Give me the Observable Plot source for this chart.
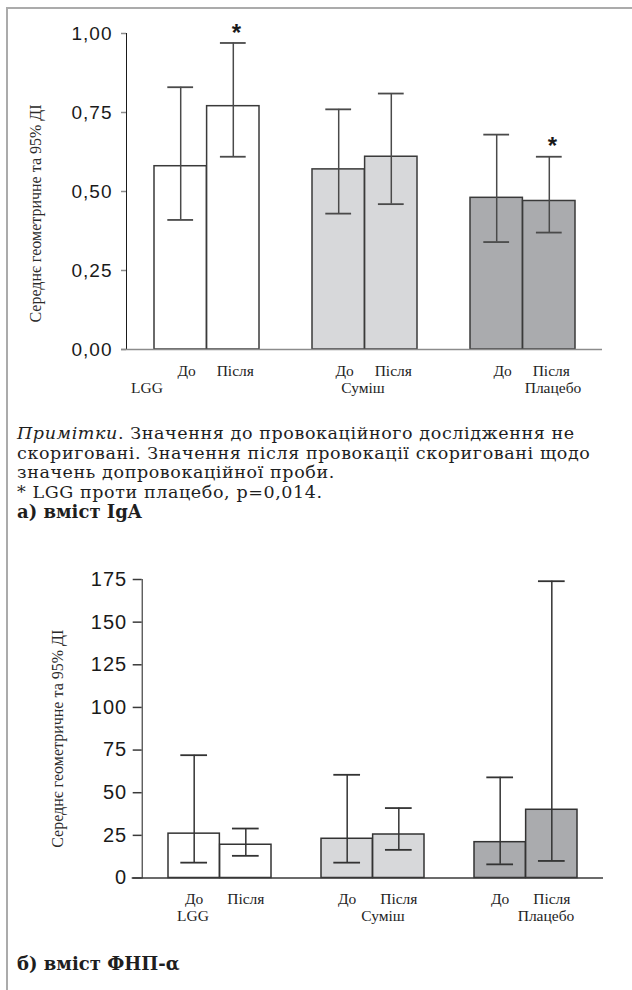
<!DOCTYPE html>
<html>
<head>
<meta charset="utf-8">
<script src="https://cdn.jsdelivr.net/npm/d3@7"></script>
<script src="https://cdn.jsdelivr.net/npm/@observablehq/plot@0.6"></script>
<style>
  body { margin: 0; background: #fff; }
  #page { position: relative; width: 632px; height: 990px; overflow: hidden; background: #fff; }
  #chartA { position: absolute; left: 0; top: 0; }
  #chartB { position: absolute; left: 0; top: 540px; }
  .frameTop { position: absolute; left: 6px; top: 7px; width: 626px; height: 2px; background: #ababab; }
  .frameLeft { position: absolute; left: 6px; top: 7px; width: 2px; height: 983px; background: #ababab; }
  .txt { position: absolute; left: 17px; font-family: "DejaVu Serif", serif; font-size: 17.5px; letter-spacing: 0.6px; line-height: 19.5px; color: #1e1e1e; white-space: nowrap; }
  #notes { top: 424px; }
  #titleB { top: 954px; font-weight: bold; letter-spacing: 0; font-size: 18px; }
  .b { font-weight: bold; letter-spacing: 0; font-size: 18px; }
</style>
</head>
<body>
<div id="page">
  <div id="chartA"></div>
  <div id="chartB"></div>
  <div class="txt" id="notes"><i>Примітки</i>. Значення до провокаційного дослідження не<br>скориговані. Значення після провокації скориговані щодо<br>значень допровокаційної проби.<br>* LGG проти плацебо, p=0,014.<br><span class="b">а) вміст IgA</span></div>
  <div class="txt" id="titleB">б) вміст ФНП-α</div>
  <div class="frameTop"></div>
  <div class="frameLeft"></div>
</div>
<script>
// ---- data ----
const groups = ["LGG", "Суміш", "Плацебо"];
const phases = ["До", "Після"];
const yLabelText = "Середнє геометричне та 95% ДІ";

// IgA (panel a): order LGG До, LGG Після, Суміш До, Суміш Після, Плацебо До, Плацебо Після
const igaMean = [0.58, 0.77, 0.57, 0.61, 0.48, 0.47];
const igaLow  = [0.41, 0.61, 0.43, 0.46, 0.34, 0.37];
const igaHigh = [0.83, 0.97, 0.76, 0.81, 0.68, 0.61];
const igaStar = ["", "*", "", "", "", "*"];
const igaTicks = [0, 0.25, 0.5, 0.75, 1];

// TNF-alpha (panel b)
const tnfMean = [26, 19.5, 23, 25.5, 21, 40];
const tnfLow  = [9, 13, 9, 16.5, 8, 10];
const tnfHigh = [72, 29, 60.5, 41, 59, 174];
const tnfStar = ["", "", "", "", "", ""];
const tnfTicks = [0, 25, 50, 75, 100, 125, 150, 175];

// ---- styles ----
const fills = ["#ffffff", "#d7d8da", "#aaabae"];

function buildRows(mean, low, high, star) {
  return mean.map((m, i) => ({
    group: groups[Math.floor(i / 2)],
    phase: phases[i % 2],
    mean: m, low: low[i], high: high[i], star: star[i]
  }));
}

function makeChart(cfg) {
  const {data, width = 632, height, mt, mb, ml, mr, padIn, padOut, yDomain, ticks, fmt,
    axisColor, lineColor, barStroke, tickSize, tickPadding, tickFont, yLabelDx, yLabelDy,
    capHalf, phaseDx, groupDx, labelDy, groupDy, baseLeft, starDx, starDy} = cfg;
  const n = groups.length;
  const step = (width - ml - mr) / (n - padIn + 2 * padOut);
  const bw = step * (1 - padIn);
  const q = bw / 4;
  const halves = phases.map((p, i) => ({
    rows: data.filter(d => d.phase === p),
    c: i === 0 ? q : 3 * q,
    il: i === 0 ? 0 : bw / 2,
    ir: i === 0 ? bw / 2 : 0,
    pdx: phaseDx[i]
  }));
  const marks = [];
  for (const h of halves) {
    marks.push(Plot.barY(h.rows, {x: "group", y: "mean", fill: "group", stroke: barStroke, strokeWidth: 1.5,
      insetLeft: h.il, insetRight: h.ir}));
  }
  marks.push(Plot.ruleY([0], {stroke: axisColor, strokeWidth: 1.5, insetLeft: -baseLeft}));
  for (const h of halves) {
    const dx = h.c - bw / 2;
    marks.push(Plot.ruleX(h.rows, {x: "group", y1: "low", y2: "high", dx, stroke: lineColor, strokeWidth: 1.5}));
    for (const k of ["low", "high"]) {
      marks.push(Plot.tickY(h.rows, {x: "group", y: k, stroke: lineColor, strokeWidth: 1.8,
        insetLeft: h.c - capHalf, insetRight: bw - h.c - capHalf}));
    }
    marks.push(Plot.text(h.rows.filter(d => d.star), {x: "group", y: "high", text: "star", dx: dx + starDx, dy: starDy,
      fontFamily: "Liberation Sans", fontWeight: "bold", fontSize: 24, fill: "#1a1a1a"}));
    marks.push(Plot.text(h.rows, {x: "group", text: "phase", frameAnchor: "bottom", dx: dx + h.pdx, dy: labelDy,
      fontFamily: "Liberation Serif", fontSize: 15.5, fill: "#1e1e1e"}));
  }
  groups.forEach((g, i) => {
    marks.push(Plot.text([g], {x: d => d, text: d => d, frameAnchor: "bottom", dx: groupDx[i], dy: groupDy,
      fontFamily: "Liberation Serif", fontSize: 15.5, fill: "#1e1e1e"}));
  });
  marks.push(Plot.text([yLabelText], {text: d => d, frameAnchor: "left", textAnchor: "middle", rotate: -90,
    dx: yLabelDx, dy: yLabelDy, fontFamily: "Liberation Serif", fontSize: 16, fill: "#2a2a2a"}));

  const svg = Plot.plot({
    width, height, marginTop: mt, marginBottom: mb, marginLeft: ml, marginRight: mr,
    style: {background: "transparent", fontFamily: "Liberation Sans", fontSize: tickFont + "px", color: "#1a1a1a", overflow: "visible"},
    x: {domain: groups, paddingInner: padIn, paddingOuter: padOut, axis: null},
    y: {domain: yDomain, ticks, tickFormat: fmt, tickSize, tickPadding, label: null, line: true},
    color: {domain: groups, range: fills},
    marks
  });
  const s = d3.select(svg);
  s.selectAll('g[aria-label^="y-axis"] line, g[aria-label^="y-axis"] path')
    .attr("stroke", axisColor).attr("stroke-width", 1.5);
  s.selectAll('g[aria-label^="y-axis"] text').style("letter-spacing", "1px");
  return svg;
}

const commaFmt = d => d.toFixed(2).replace(".", ",");

document.getElementById("chartA").append(makeChart({
  data: buildRows(igaMean, igaLow, igaHigh, igaStar),
  height: 400, mt: 33, mb: 51, ml: 126, mr: 30,
  padIn: 0.336, padOut: 0.17,
  yDomain: [0, 1], ticks: igaTicks, fmt: commaFmt,
  axisColor: "#8c8c8c", lineColor: "#4a4a4a", barStroke: "#3a3a3a",
  tickSize: 5, tickPadding: 9, tickFont: 19,
  yLabelDx: -91, yLabelDy: 22,
  capHalf: 13, phaseDx: [6, 2], groupDx: [-60, -2, 30], labelDy: 26, groupDy: 43,
  baseLeft: 5, starDx: 3, starDy: -10
}));

document.getElementById("chartB").append(makeChart({
  data: buildRows(tnfMean, tnfLow, tnfHigh, tnfStar),
  height: 390, mt: 39, mb: 52.5, ml: 141.7, mr: 29,
  padIn: 0.329, padOut: 0.163,
  yDomain: [0, 175], ticks: tnfTicks, fmt: d => String(d),
  axisColor: "#3a3a3a", lineColor: "#333333", barStroke: "#333333",
  tickSize: 9, tickPadding: 6, tickFont: 20,
  yLabelDx: -84, yLabelDy: 10,
  capHalf: 13.5, phaseDx: [0, 0], groupDx: [-27, 10, 20], labelDy: 26, groupDy: 43,
  baseLeft: 10, starDx: 3, starDy: -10
}));
</script>
</body>
</html>
